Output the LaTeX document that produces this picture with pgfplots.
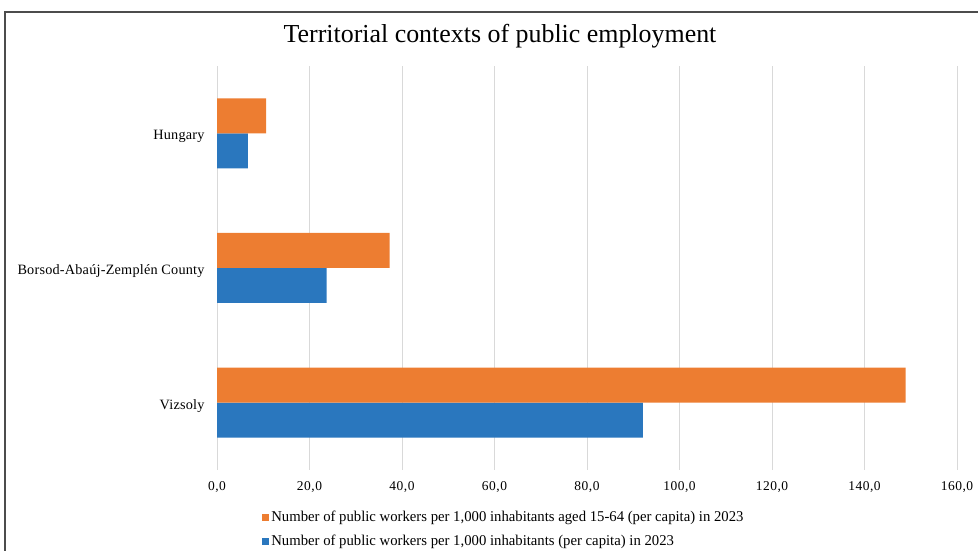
\documentclass[border=0pt]{standalone}
\usepackage{pgfplots}
\pgfplotsset{compat=1.18}
\usepackage{fontspec}
\setmainfont{Liberation Serif}
\newfontfamily\tickfont[LetterSpace=4]{Liberation Serif}
\newfontfamily\ylabfont[LetterSpace=1.5]{Liberation Serif}
\newfontfamily\legfont[FakeStretch=0.985]{Liberation Serif}
\definecolor{xlblue}{HTML}{2A77BE}
\definecolor{xlorange}{HTML}{ED7D31}
\definecolor{gridgray}{HTML}{D9D9D9}
\begin{document}
\begin{tikzpicture}[x=1bp,y=1bp]
\useasboundingbox (0,0) rectangle (978,551);
\draw[black!70, line width=1.2bp] (5,0) -- (5,539) -- (978,539);
\node[font=\fontsize{26}{30}\selectfont] at (500,515) {Territorial contexts of public employment};
\begin{axis}[
  at={(217bp,81bp)}, anchor=south west,
  scale only axis, width=740bp, height=404bp,
  xbar=0pt, bar width=35bp,
  xmin=0, xmax=160, ymin=-0.5, ymax=2.5,
  xtick={0,20,...,160},
  ytick={0,1,2},
  yticklabels={Vizsoly, Borsod-Abaúj-Zemplén County, Hungary},
  axis line style={draw=none},
  major tick length=0pt,
  xmajorgrids, grid style={gridgray, line width=1bp},
  /pgf/number format/fixed,
  /pgf/number format/fixed zerofill,
  /pgf/number format/precision=1,
  /pgf/number format/use comma,
  /pgf/number format/assume math mode=true,
  xticklabel style={font=\tickfont\fontsize{13.5}{15}\selectfont, yshift=-8bp},
  yticklabel style={font=\ylabfont\fontsize{14.3}{16}\selectfont, xshift=-9bp, yshift=-3bp},
  reverse legend,
  legend style={at={(0.061,-0.097)}, anchor=north west, draw=none, fill=none,
    font=\legfont\fontsize{15}{17}\selectfont, row sep=8bp, inner sep=0pt},
  legend cell align=left,
  legend image code/.code={\fill[#1] (0bp,-3.5bp) rectangle (7bp,3.5bp);},
]
\addplot[fill=xlblue, draw=none] coordinates {(92.1,0) (23.7,1) (6.7,2)};
\addplot[fill=xlorange, draw=none] coordinates {(148.9,0) (37.3,1) (10.6,2)};
\legend{{Number of public workers per 1,000 inhabitants (per capita) in 2023},
        {Number of public workers per 1,000 inhabitants aged 15-64 (per capita) in 2023}}
\end{axis}
\end{tikzpicture}
\end{document}
